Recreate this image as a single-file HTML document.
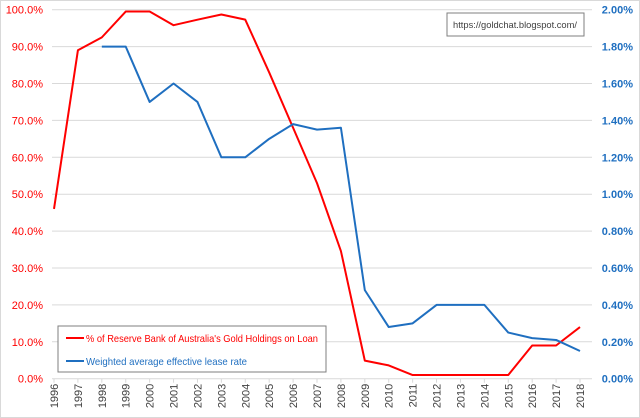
<!DOCTYPE html>
<html><head><meta charset="utf-8"><style>
html,body{margin:0;padding:0;background:#fff;}
svg{display:block;font-family:"Liberation Sans",sans-serif;}
</style></head><body>
<svg id="chart" width="640" height="418" viewBox="0 0 640 418">
<rect x="0.5" y="0.5" width="639" height="417" fill="#fff" stroke="#d9d9d9"/>
<g id="grid"></g><g id="yl"></g><g id="yr"></g><g id="xa"></g><g id="series"></g>
<g>
<rect x="447" y="13" width="137" height="23" fill="#fff" stroke="#7f7f7f"/>
<text x="453" y="28" font-size="9.5" fill="#404040" textLength="124" lengthAdjust="spacingAndGlyphs">https://goldchat.blogspot.com/</text>
</g>
<g>
<rect x="58" y="326" width="268" height="46" fill="#fff" stroke="#7f7f7f"/>
<line x1="66" y1="338" x2="84" y2="338" stroke="#ff0000" stroke-width="2"/>
<text x="86" y="342" font-size="10.5" fill="#ff0000" textLength="232" lengthAdjust="spacingAndGlyphs">% of Reserve Bank of Australia's Gold Holdings on Loan</text>
<line x1="66" y1="361" x2="84" y2="361" stroke="#1f6fc0" stroke-width="2"/>
<text x="86" y="365" font-size="10.5" fill="#1f6fc0" textLength="161" lengthAdjust="spacingAndGlyphs">Weighted average effective lease rate</text>
</g>
</svg>
<script>
const years=[1996,1997,1998,1999,2000,2001,2002,2003,2004,2005,2006,2007,2008,2009,2010,2011,2012,2013,2014,2015,2016,2017,2018];
const goldOnLoan=[46,89,92.5,99.5,99.5,95.8,97.3,98.7,97.3,83,68,53,34.6,4.9,3.6,1,1,1,1,1,9,9,14];
const leaseRate=[null,null,1.80,1.80,1.50,1.60,1.50,1.20,1.20,1.30,1.38,1.35,1.36,0.48,0.28,0.30,0.40,0.40,0.40,0.25,0.22,0.21,0.15];
const leftTicks=[0,10,20,30,40,50,60,70,80,90,100];
const rightTicks=[0,0.2,0.4,0.6,0.8,1.0,1.2,1.4,1.6,1.8,2.0];
const NS='http://www.w3.org/2000/svg';
const x0=54,x1=580,yTop=9.7,yBot=378.7;
const xs=i=>x0+(x1-x0)*i/(years.length-1);
const yl=v=>yBot-(yBot-yTop)*v/100;
const yr=v=>yBot-(yBot-yTop)*v/2;
function mk(tag,attrs,parent){const e=document.createElementNS(NS,tag);for(const k in attrs)e.setAttribute(k,attrs[k]);document.getElementById(parent).appendChild(e);return e;}
leftTicks.forEach((v,i)=>{
 const y=yl(v);
 if(v>0){const g=mk('line',{x1:52,x2:592,y1:y,y2:y,stroke:'#d9d9d9'},'grid');
 
 }
 const t=mk('text',{x:43,y:y+4,'font-size':11,fill:'#ff0000','text-anchor':'end'},'yl');
 t.textContent=v.toFixed(1)+'%';
 
 
});
rightTicks.forEach(v=>{
 const t=mk('text',{x:633,y:yr(v)+4,'font-size':11,fill:'#1f6fc0','text-anchor':'end','font-weight':'bold'},'yr');
 t.textContent=v.toFixed(2)+'%';
 
 
});
const ax=mk('line',{x1:52,x2:592,y1:yBot,y2:yBot,stroke:'#d9d9d9'},'xa');


years.forEach((yv,i)=>{
 const x=xs(i);
 const tk=mk('line',{x1:x,x2:x,y1:yBot,y2:yBot+4,stroke:'#d9d9d9'},'xa');
 
 
 const t=mk('text',{x:0,y:0,'font-size':11,fill:'#404040','text-anchor':'end',transform:`translate(${x+4},${yBot+5}) rotate(-90)`},'xa');
 t.textContent=yv;
 
 
});
const rp=goldOnLoan.map((v,i)=>`${xs(i)},${yl(v)}`).join(' ');
const red=mk('polyline',{points:rp,fill:'none',stroke:'#ff0000','stroke-width':2,'stroke-linejoin':'round'},'series');


const bp=leaseRate.map((v,i)=>v==null?null:`${xs(i)},${yr(v)}`).filter(Boolean).join(' ');
const blue=mk('polyline',{points:bp,fill:'none',stroke:'#1f6fc0','stroke-width':2,'stroke-linejoin':'round'},'series');


</script>
</body></html>
